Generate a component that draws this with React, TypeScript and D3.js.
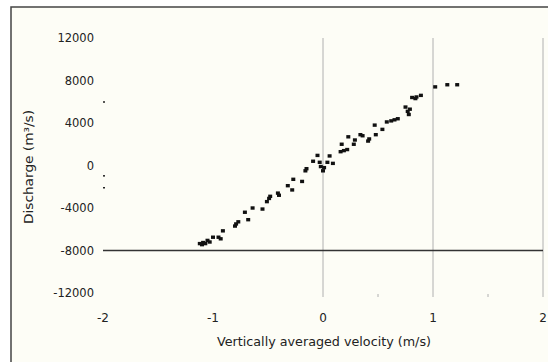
import React from 'react';
import * as d3 from 'd3';

// velocity (m/s), discharge (m3/s)
const velocity = [
  -1.12, -1.1, -1.09, -1.07, -1.05, -1.03, -1.0, -0.95, -0.93, -0.91, -0.8, -0.79, -0.77, -0.71, -0.68, -0.64,
  -0.55, -0.51, -0.49, -0.48, -0.41, -0.4, -0.32, -0.28, -0.27, -0.19, -0.16, -0.15, -0.09, -0.05, -0.03, -0.02,
  0.0, 0.01, 0.04, 0.06, 0.09, 0.16, 0.17, 0.19, 0.22, 0.23, 0.28, 0.29, 0.34, 0.36, 0.41, 0.42,
  0.47, 0.48, 0.54, 0.58, 0.62, 0.65, 0.68, 0.75, 0.77, 0.78, 0.79, 0.81, 0.84, 0.85, 0.89, 1.02,
  1.13, 1.22,
];
const discharge = [
  -7350, -7450, -7250, -7350, -7050, -7200, -6750, -6750, -6900, -6150, -5700, -5500, -5300, -4400, -5100, -4000,
  -4100, -3400, -3100, -2900, -2600, -2800, -1900, -2300, -1300, -1500, -500, -300, 400, 950, 300, -100,
  -500, -200, 300, 900, 200, 1300, 2000, 1400, 1500, 2700, 2000, 2400, 2900, 2800, 2300, 2500,
  3800, 2900, 3400, 4100, 4200, 4300, 4400, 5500, 5100, 4800, 5300, 6400, 6300, 6450, 6600, 7400,
  7600, 7600,
];
// stray marks sitting on the left edge of the plot
const edgeDischarge = [6000, -950, -2070];

const xTicks = [-2, -1, 0, 1, 2];
const yTicks = [12000, 8000, 4000, 0, -4000, -8000, -12000];
const gridX = [0, 1, 2];
const minorX = [0.5, 1.5];

const App: React.FC = () => {
  const width = 548;
  const height = 362;
  const font = 'DejaVu Sans, Verdana, sans-serif';

  const x = d3.scaleLinear().domain([-2, 2]).range([103, 543]);
  const y = d3.scaleLinear().domain([-12000, 12000]).range([293, 38]);

  const points = velocity.map((v, i) => ({ v, q: discharge[i] }));

  return (
    <svg width={width} height={height} style={{ position: 'absolute', left: 0, top: 0 }}>
      <rect x={0} y={0} width={width} height={height} fill="#ffffff" />
      <rect x={11} y={7} width={width + 20} height={height + 20} fill="#fdfdf6" stroke="#444" strokeWidth={1.5} />

      {/* vertical gridlines */}
      {gridX.map((t) => (
        <line key={t} x1={x(t)} x2={x(t)} y1={y(12000)} y2={y(-12000) + 4} stroke="#b0b0b0" strokeWidth={1} />
      ))}
      {minorX.map((t) => (
        <line key={t} x1={x(t)} x2={x(t)} y1={y(-12000) + 1} y2={y(-12000) + 4} stroke="#b0b0b0" strokeWidth={1} />
      ))}

      {/* horizontal axis line */}
      <line x1={x(-2)} x2={x(2)} y1={y(-8000)} y2={y(-8000)} stroke="#333" strokeWidth={1.5} />

      {/* y tick labels */}
      {yTicks.map((t) => (
        <text key={t} x={94} y={y(t)} dy="0.35em" textAnchor="end" fontFamily={font} fontSize={11.5} fill="#222">
          {t}
        </text>
      ))}

      {/* x tick labels */}
      {xTicks.map((t) => (
        <text key={t} x={x(t)} y={318} dy="0.35em" textAnchor="middle" fontFamily={font} fontSize={12} fill="#222">
          {t}
        </text>
      ))}

      {/* edge marks */}
      {edgeDischarge.map((q, i) => (
        <rect key={i} x={x(-2)} y={y(q) - 0.5} width={2} height={1.5} fill="#222" />
      ))}

      {/* data */}
      {points.map((d, i) => (
        <rect key={i} x={x(d.v) - 2} y={y(d.q) - 1.7} width={4} height={3.4} fill="#111" />
      ))}

      {/* axis titles */}
      <text
        x={0}
        y={0}
        transform={`translate(33, 167) rotate(-90)`}
        textAnchor="middle"
        fontFamily={font}
        fontSize={12}
        fill="#222"
        textLength={114}
        lengthAdjust="spacingAndGlyphs"
      >
        Discharge (m³/s)
      </text>
      <text
        x={324}
        y={342}
        dy="0.35em"
        textAnchor="middle"
        fontFamily={font}
        fontSize={12}
        fill="#222"
        textLength={214}
        lengthAdjust="spacingAndGlyphs"
      >
        Vertically averaged velocity (m/s)
      </text>
    </svg>
  );
};

export default App;
